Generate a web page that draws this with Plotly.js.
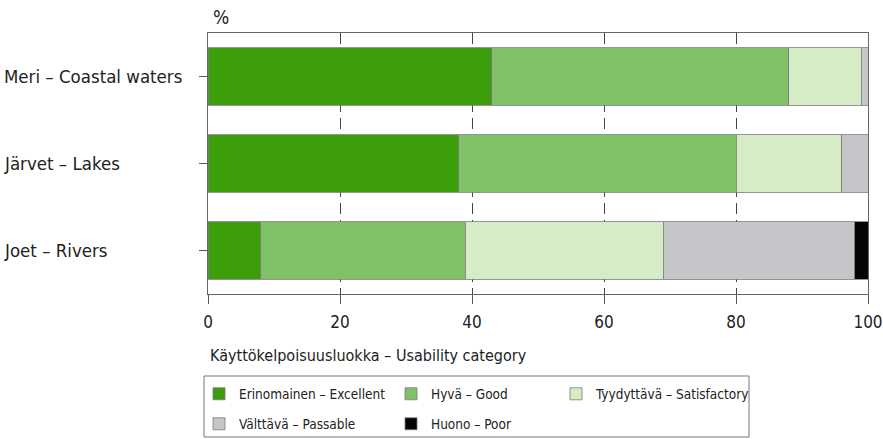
<!DOCTYPE html>
<html>
<head>
<meta charset="utf-8">
<script src="https://cdn.plot.ly/plotly-3.0.1.min.js"></script>
<style>html,body{margin:0;padding:0;background:#fff;}#chart{width:883px;height:439px;}</style>
</head>
<body>
<div id="chart"></div>
<script>
const categories = ["Meri – Coastal waters", "Järvet – Lakes", "Joet – Rivers"];
const seriesNames = ["Erinomainen – Excellent", "Hyvä – Good", "Tyydyttävä – Satisfactory", "Välttävä – Passable", "Huono – Poor"];
const excellent = [43, 38, 8];
const good = [45, 42, 31];
const satisfactory = [11, 16, 30];
const passable = [1, 4, 29];
const poor = [0, 0, 2];
const xTicks = [0, 20, 40, 60, 80, 100];
const legendTitle = "Käyttökelpoisuusluokka – Usability category";
const unitLabel = "%";

const colors = ["#3c9e0b", "#80c168", "#d6ecc6", "#c4c6ca", "#050505"];
const legendRow = ["legend", "legend", "legend", "legend2", "legend2"];
const legendWidths = [147, 120, 155, 147, 100];

const FONT = "DejaVu Sans Condensed, Liberation Sans Narrow, Arial Narrow, sans-serif";
const values = [excellent, good, satisfactory, passable, poor];

const traces = values.map((v, i) => ({
  type: "bar",
  orientation: "h",
  name: seriesNames[i],
  y: categories,
  x: v,
  width: 0.66,
  legend: legendRow[i],
  legendwidth: legendWidths[i],
  marker: { color: colors[i], line: { color: "#7a7a7a", width: 0.8 } },
  hoverinfo: "x+name"
}));

const legendCommon = {
  orientation: "h",
  xanchor: "left",
  yanchor: "top",
  borderwidth: 0,
  bgcolor: "rgba(0,0,0,0)",
  font: { family: FONT, size: 13.5, color: "#222" },
  traceorder: "normal",
  itemclick: false,
  itemdoubleclick: false
};

const catLabels = categories.map(c => ({
  text: c,
  xref: "paper", yref: "y",
  x: -0.312, y: c,
  xanchor: "left", yanchor: "middle",
  showarrow: false,
  font: { family: FONT, size: 18.5, color: "#222" }
}));

const layout = {
  width: 883,
  height: 439,
  paper_bgcolor: "#fff",
  plot_bgcolor: "#fff",
  barmode: "stack",
  margin: { l: 208, r: 15, t: 33, b: 145, autoexpand: false },
  font: { family: FONT, size: 17, color: "#222" },
  xaxis: {
    range: [0, 100],
    tickvals: xTicks,
    ticktext: xTicks.map(String),
    ticks: "outside",
    ticklen: 9,
    tickcolor: "#555",
    ticklabelstandoff: 4,
    tickfont: { family: FONT, size: 17, color: "#222" },
    showgrid: true,
    gridcolor: "#444",
    griddash: "11px,6px",
    gridwidth: 1,
    showline: true,
    linecolor: "#666",
    linewidth: 1,
    mirror: true,
    zeroline: false,
    fixedrange: true
  },
  yaxis: {
    type: "category",
    categoryorder: "array",
    categoryarray: categories,
    range: [2.5, -0.5],
    ticks: "outside",
    ticklen: 8,
    tickcolor: "#555",
    showticklabels: false,
    showgrid: false,
    showline: true,
    linecolor: "#666",
    linewidth: 1,
    mirror: true,
    zeroline: false,
    fixedrange: true
  },
  showlegend: true,
  legend: Object.assign({}, legendCommon, { x: -0.0136, y: -0.3238 }),
  legend2: Object.assign({}, legendCommon, { x: -0.0136, y: -0.4387 }),
  shapes: [
    {
      type: "rect",
      xref: "paper", yref: "paper",
      x0: -0.00606, x1: 0.8197, y0: -0.5479, y1: -0.3142,
      line: { color: "#777", width: 1 },
      fillcolor: "rgba(0,0,0,0)",
      layer: "above"
    }
  ],
  annotations: [
    {
      text: unitLabel,
      xref: "paper", yref: "paper",
      x: 0.004, y: 1.0,
      xanchor: "left", yanchor: "bottom",
      yshift: 3,
      showarrow: false,
      font: { family: FONT, size: 19, color: "#222" }
    },
    {
      text: legendTitle,
      xref: "paper", yref: "paper",
      x: 0, y: -0.193,
      xanchor: "left", yanchor: "top",
      showarrow: false,
      font: { family: FONT, size: 16, color: "#222" }
    }
  ].concat(catLabels)
};

Plotly.newPlot("chart", traces, layout, { displayModeBar: false, staticPlot: true });
</script>
</body>
</html>
